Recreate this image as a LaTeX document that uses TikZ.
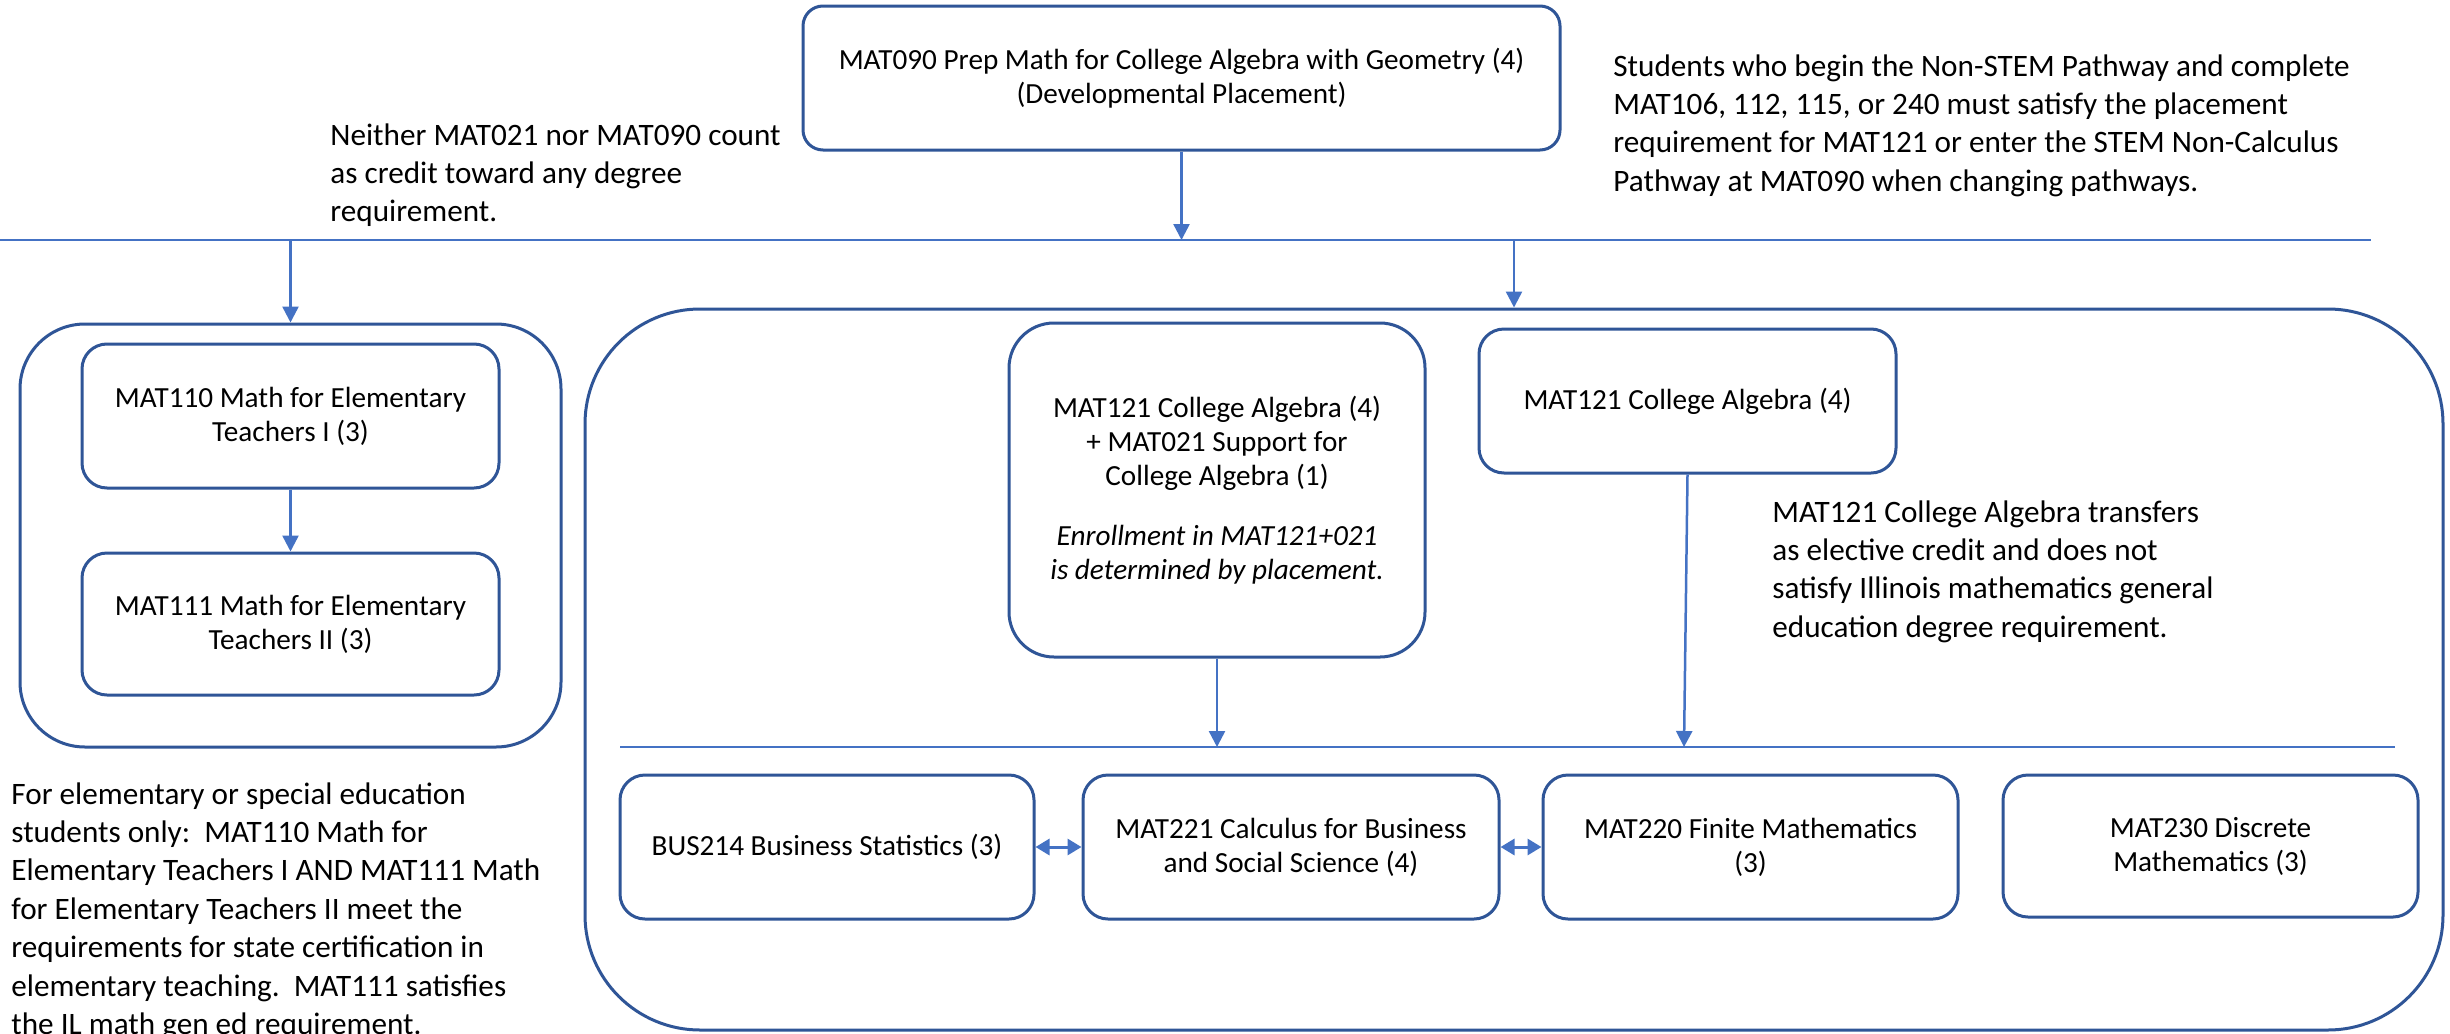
\documentclass[tikz,border=0pt]{standalone}
\usepackage{fontspec}
\setmainfont{Carlito}
\usetikzlibrary{arrows.meta}
\definecolor{boxblue}{HTML}{2F5597}
\definecolor{lineblue}{HTML}{4472C4}
\newcommand\bxfont{\fontsize{14.6}{17}\selectfont}
\newcommand\frfont{\fontsize{15.6}{19.2}\selectfont}
\begin{document}
\begin{tikzpicture}[x=0.5pt,y=-0.5pt,
  course/.style={draw=boxblue, line width=1.5pt, rounded corners=12.5pt, align=center, inner sep=0pt, font=\bxfont, minimum width=208pt, minimum height=72pt},
  group/.style={draw=boxblue, line width=1.5pt, inner sep=0pt},
  note/.style={anchor=north west, align=left, inner sep=0pt, font=\frfont},
  flow/.style={draw=lineblue, line width=1.25pt, -{Triangle[width=8pt,length=8pt]}},
  both/.style={draw=lineblue, line width=1.5pt, {Triangle[width=8pt,length=7pt]}-{Triangle[width=8pt,length=7pt]}},
  rule/.style={draw=lineblue, line width=1pt}]
\useasboundingbox[fill=white] (0,0) rectangle (2450,1033);

% horizontal rules
\coordinate (l1a) at (0,240);
\coordinate (l1b) at (2371,240);
\coordinate (l2a) at (620,747);
\coordinate (l2b) at (2395,747);
\coordinate (l2c) at (1684,747);
\draw[rule] (l1a) -- (l1b);
\draw[rule] (l2a) -- (l2b);

% top box
\node[course, minimum width=378.5pt, minimum height=72pt, rounded corners=10pt] (top) at (1181.5,78)
  {MAT090 Prep Math for College Algebra with Geometry (4)\\(Developmental Placement)};

% left group
\node[group, minimum width=270.5pt, minimum height=211.5pt, rounded corners=32.5pt] (lout) at (290.5,535.5) {};
\node[course, minimum width=208.5pt] (m110) at (290.5,416) {MAT110 Math for Elementary\\Teachers I (3)};
\node[course, minimum width=208.5pt, minimum height=71pt] (m111) at (290.5,624) {MAT111 Math for Elementary\\Teachers II (3)};

% big group
\node[group, minimum width=929pt, minimum height=360.5pt, rounded corners=57.5pt] (big) at (1514,669.5) {};
\node[course, minimum width=208pt, minimum height=167pt, rounded corners=22.5pt] (m121s) at (1217,490)
  {MAT121 College Algebra (4)\\+ MAT021 Support for\\College Algebra (1)\\[13pt]\textit{Enrollment in MAT121+021}\\\textit{is determined by placement.}};
\node[course, minimum width=208.5pt] (m121) at (1687.5,401) {MAT121 College Algebra (4)};

\node[course, minimum width=207pt] (bus) at (827,847) {BUS214 Business Statistics (3)};
\node[course] (m221) at (1291,847) {MAT221 Calculus for Business\\and Social Science (4)};
\node[course, minimum width=207.5pt] (m220) at (1750.5,847) {MAT220 Finite Mathematics\\(3)};
\node[course, minimum width=207.5pt, minimum height=71pt] (m230) at (2210.5,846) {MAT230 Discrete\\Mathematics (3)};

% notes
\node[note] (ntl) at (330,123) {Neither MAT021 nor MAT090 count\\as credit toward any degree\\requirement.};
\node[note] (ntr) at (1613,54) {Students who begin the Non-STEM Pathway and complete\\MAT106, 112, 115, or 240 must satisfy the placement\\requirement for MAT121 or enter the STEM Non-Calculus\\Pathway at MAT090 when changing pathways.};
\node[note] (nmid) at (1772,500) {MAT121 College Algebra transfers\\as elective credit and does not\\satisfy Illinois mathematics general\\education degree requirement.};
\node[note] (nbl) at (11,782) {For elementary or special education\\students only:\ \ MAT110 Math for\\Elementary Teachers I AND MAT111 Math\\for Elementary Teachers II meet the\\requirements for state certification in\\elementary teaching.\ \ MAT111 satisfies\\the IL math gen ed requirement.};

% connectors
\draw[flow] (top.south) -- (top.south |- l1a);
\draw[flow] (l1a -| lout.north) -- (lout.north);
\draw[flow] (l1a -| big.north) -- (big.north);
\draw[flow] (m110) -- (m111);
\draw[flow] (m121s.south) -- (m121s.south |- l2a);
\draw[flow] (m121.south) -- (l2c);
\draw[both] (bus) -- (m221);
\draw[both] (m221) -- (m220);
\end{tikzpicture}
\end{document}
